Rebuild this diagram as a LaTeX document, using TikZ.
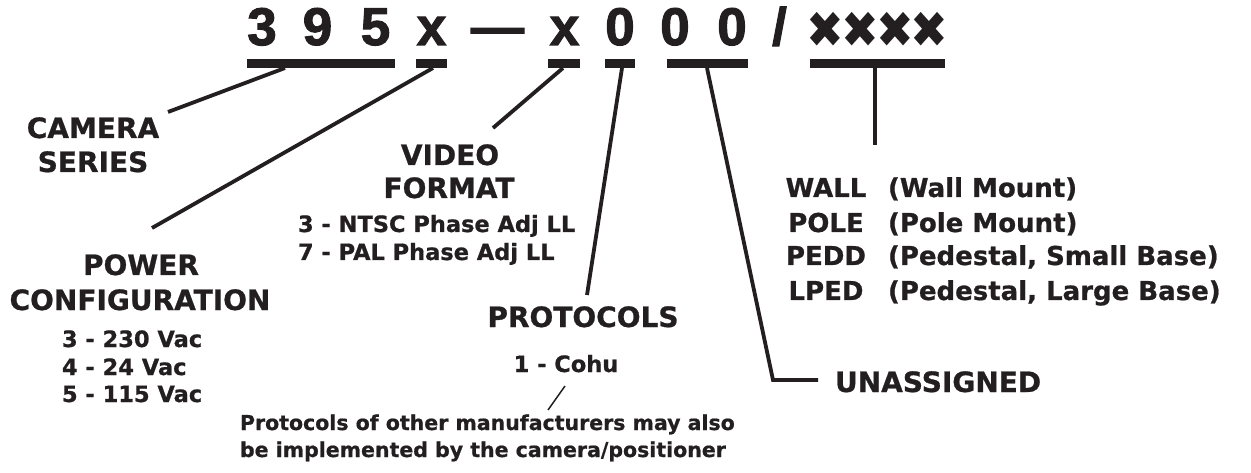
\documentclass[tikz,border=0pt]{standalone}
\usepackage{fontspec}
\setmainfont[BoldFeatures={FakeBold=0.8}]{DejaVu Sans}
\newfontfamily\hdrfont[BoldFeatures={FakeBold=2}]{Liberation Sans}
\newfontfamily\dvfont{DejaVu Sans}
\definecolor{ink}{HTML}{231F20}
\begin{document}
\begin{tikzpicture}[x=1pt,y=-1pt,
  every node/.style={inner sep=0pt,outer sep=0pt,text=ink},
  hdr/.style={anchor=base,font=\hdrfont\bfseries\fontsize{53}{53}\selectfont},
  crs/.style={anchor=center,yscale=1.12,font=\dvfont\fontsize{45}{45}\selectfont},
  bar/.style={fill=ink,minimum height=9pt,anchor=north west},
  lbl/.style={anchor=base,font=\bfseries\fontsize{28}{33}\selectfont},
  sub/.style={anchor=base west,font=\bfseries\fontsize{22.5}{28}\selectfont},
  mnt/.style={anchor=base,font=\bfseries\fontsize{26}{33}\selectfont},
  mntd/.style={anchor=base west,font=\bfseries\fontsize{26}{33}\selectfont},
  note/.style={anchor=base west,font=\bfseries\fontsize{20.5}{27}\selectfont},
  conn/.style={draw=ink,line width=3.8pt},
  thin/.style={draw=ink,line width=1.5pt}]
\useasboundingbox (0,0) rectangle (1251,473);
% header characters
\node[hdr] (h3) at (262,45) {3};
\node[hdr] (h9) at (317.5,45) {9};
\node[hdr] (h5) at (375.5,45) {5};
\node[hdr] (hx1) at (431.5,45) {x};
\node[hdr] (hd) at (497.5,45) {—};
\node[hdr] (hx2) at (564.5,45) {x};
\node[hdr] (h01) at (620,45) {0};
\node[hdr] (h02) at (675,45) {0};
\node[hdr] (h03) at (732,45) {0};
\node[hdr] (hs) at (779.5,45) {/};
\node[crs] (c1) at (825.5,30) {✖};
\node[crs] (c2) at (860,30) {✖};
\node[crs] (c3) at (895,30) {✖};
\node[crs] (c4) at (929.5,30) {✖};
% bars
\node[bar,minimum width=148pt] (b1) at (247,59) {};
\node[bar,minimum width=31pt] (b2) at (416,59) {};
\node[bar,minimum width=32pt] (b3) at (548,59) {};
\node[bar,minimum width=30pt] (b4) at (605,59) {};
\node[bar,minimum width=81pt] (b5) at (667,59) {};
\node[bar,minimum width=135pt] (b6) at (810,59) {};
% labels
\node[lbl] (cam1) at (93,138) {CAMERA};
\node[lbl] (cam2) at (93,172) {SERIES};
\node[lbl] (vid1) at (450,165) {VIDEO};
\node[lbl] (vid2) at (449,198) {FORMAT};
\node[sub] (vid3) at (298,232) {3 - NTSC Phase Adj LL};
\node[sub] (vid4) at (298,260) {7 - PAL Phase Adj LL};
\node[lbl] (pow1) at (141,275) {POWER};
\node[lbl] (pow2) at (140,310) {CONFIGURATION};
\node[sub] (pow3) at (62,347) {3 - 230 Vac};
\node[sub] (pow4) at (62,375) {4 - 24 Vac};
\node[sub] (pow5) at (62,402) {5 - 115 Vac};
\node[lbl] (pro1) at (583,327) {PROTOCOLS};
\node[anchor=base,font=\bfseries\fontsize{22.5}{28}\selectfont] (pro2) at (566,372) {1 - Cohu};
\node[note] (n1) at (240,430) {Protocols of other manufacturers may also};
\node[note] (n2) at (240,457) {be implemented by the camera/positioner};
\node[mnt] (m1) at (826,197) {WALL};
\node[mnt] (m2) at (826,232) {POLE};
\node[mnt] (m3) at (826,265) {PEDD};
\node[mnt] (m4) at (826,300) {LPED};
\node[mntd] (d1) at (888,197) {(Wall Mount)};
\node[mntd] (d2) at (888,232) {(Pole Mount)};
\node[mntd] (d3) at (888,265) {(Pedestal, Small Base)};
\node[mntd] (d4) at (888,300) {(Pedestal, Large Base)};
\node[anchor=base west,font=\bfseries\fontsize{28}{33}\selectfont] (un) at (835,392) {UNASSIGNED};
% connector ends
\coordinate (e1) at (168,112);
\coordinate (e2) at (152,228);
\coordinate (e3) at (493,128);
\coordinate (e4) at (587,295);
\coordinate (e5a) at (773,380);
\coordinate (e5) at (818,380);
\coordinate (e6) at (875,145);
\coordinate (f1) at (565,386);
\coordinate (f2) at (548,410);
% connectors
\draw[conn] ([xshift=-36pt]b1.south) -- (e1);
\draw[conn] ([xshift=1.5pt]b2.south) -- (e2);
\draw[conn] ([xshift=-1pt]b3.south) -- (e3);
\draw[conn] ([xshift=2pt]b4.south) -- (e4);
\draw[conn] ([xshift=-0.5pt]b5.south) -- (e5a) -- (e5);
\draw[conn] ([xshift=-2.5pt]b6.south) -- (e6);
\draw[thin] (f1) -- (f2);
\end{tikzpicture}
\end{document}
